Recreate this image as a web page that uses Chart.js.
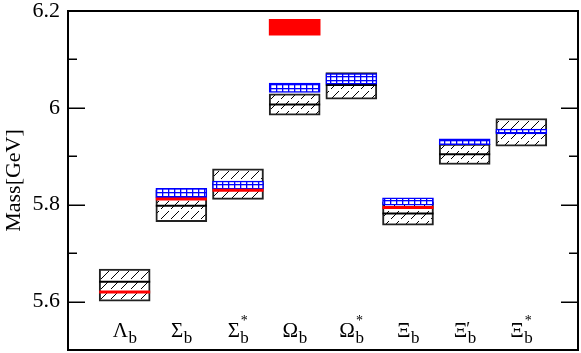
<!DOCTYPE html>
<html>
<head>
<meta charset="utf-8">
<script src="https://cdn.jsdelivr.net/npm/chart.js@4.4.0/dist/chart.umd.min.js"></script>
<style>
html, body { margin: 0; padding: 0; background: #fff; }
#wrap { width: 581px; height: 353px; }
</style>
</head>
<body>
<div id="wrap"><canvas id="grafico" width="581" height="353"></canvas></div>
<script>
// baryon names: letter, subscript, superscript
const bariones = ['Λ', 'Σ', 'Σ', 'Ω', 'Ω', 'Ξ', 'Ξ', 'Ξ'];
const subindices = ['b', 'b', 'b', 'b', 'b', 'b', 'b', 'b'];
const superindices = ['', '', '*', '', '*', '', '′', '*'];

// hatched boxes (GeV): low, central, high
const teoBajo   = [5.601, 5.765, 5.811, 5.985, 6.018, 5.758, 5.883, 5.921];
const teoCentro = [5.641, 5.798, 5.842, 6.007, 6.047, 5.782, 5.904, 5.950];
const teoAlto   = [5.667, 5.830, 5.874, 6.029, 6.073, 5.806, 5.925, 5.978];

// blue grid boxes
const latBajo = [null, 5.814, 5.832, 6.032, 6.049, 5.799, 5.924, 5.946];
const latAlto = [null, 5.834, 5.849, 6.051, 6.071, 5.814, 5.936, 5.956];

// experimental masses (red lines)
const experimental = [5.620, 5.812, 5.830, null, null, 5.794, null, null];

// red block
const rojoBajo = [null, null, null, 6.150, null, null, null, null];
const rojoAlto = [null, null, null, 6.183, null, null, null, null];

const ticksY = [5.6, 5.8, 6.0, 6.2];
const ticksYmenores = [5.7, 5.9, 6.1];

const FUENTE = '"Liberation Serif", "Times New Roman", serif';

function patronRayado() {
    const c = document.createElement('canvas');
    c.width = 10; c.height = 10;
    const g = c.getContext('2d');
    g.fillStyle = '#fff'; g.fillRect(0, 0, 10, 10);
    g.strokeStyle = '#000'; g.lineWidth = 1;
    g.beginPath(); g.moveTo(1, 9); g.lineTo(9, 1); g.stroke();
    return g.createPattern(c, 'repeat');
}

function patronRejilla() {
    const c = document.createElement('canvas');
    c.width = 6; c.height = 4;
    const g = c.getContext('2d');
    g.fillStyle = '#fff'; g.fillRect(0, 0, 6, 4);
    g.fillStyle = '#0000ff';
    g.fillRect(0, 0, 6, 1.3);
    g.fillRect(0, 0, 1.3, 4);
    return g.createPattern(c, 'repeat');
}

const cajas = teoBajo.map((b, i) => ({ x: i + 1, y: [b, teoAlto[i]] }));
const rejillas = latBajo.map((b, i) => b === null ? null : { x: i + 1, y: [b, latAlto[i]] }).filter(Boolean);
const rojos = rojoBajo.map((b, i) => b === null ? null : { x: i + 1, y: [b, rojoAlto[i]] }).filter(Boolean);

const MEDIO = 25.5;

const adornos = {
    id: 'adornos',
    afterDatasetDraw(chart, args) {
        if (args.index !== 0) return;
        const { ctx, scales: { x, y } } = chart;
        ctx.save();
        ctx.strokeStyle = '#000';
        ctx.lineWidth = 2;
        teoCentro.forEach((v, i) => {
            const px = x.getPixelForValue(i + 1), py = y.getPixelForValue(v);
            ctx.beginPath(); ctx.moveTo(px - MEDIO, py); ctx.lineTo(px + MEDIO, py); ctx.stroke();
        });
        ctx.restore();
    },
    afterDatasetsDraw(chart) {
        const { ctx, chartArea: a, scales: { x, y } } = chart;
        ctx.save();
        // experimental lines
        ctx.strokeStyle = '#ff0000';
        ctx.lineWidth = 3;
        experimental.forEach((v, i) => {
            if (v === null) return;
            const px = x.getPixelForValue(i + 1), py = y.getPixelForValue(v);
            ctx.beginPath(); ctx.moveTo(px - MEDIO, py); ctx.lineTo(px + MEDIO, py); ctx.stroke();
        });
        // frame
        ctx.strokeStyle = '#000';
        ctx.lineWidth = 2;
        ctx.strokeRect(a.left, a.top, a.right - a.left, a.bottom - a.top);
        // inward ticks on both sides
        ctx.lineWidth = 1.5;
        const marcas = (vals, largo) => vals.forEach(v => {
            const py = Math.round(y.getPixelForValue(v)) + 0.25;
            ctx.beginPath();
            ctx.moveTo(a.left, py); ctx.lineTo(a.left + largo, py);
            ctx.moveTo(a.right, py); ctx.lineTo(a.right - largo, py);
            ctx.stroke();
        });
        marcas(ticksY, 17);
        marcas(ticksYmenores, 9);
        // category names
        ctx.fillStyle = '#000';
        ctx.textBaseline = 'alphabetic';
        ctx.textAlign = 'left';
        const base = a.bottom - 13.5;
        bariones.forEach((l, i) => {
            const cx = x.getPixelForValue(i + 1);
            ctx.font = '21px ' + FUENTE;
            const w1 = ctx.measureText(l).width;
            ctx.font = '17px ' + FUENTE;
            const w2 = ctx.measureText(subindices[i]).width;
            const x0 = cx - (w1 + w2) / 2;
            ctx.font = '21px ' + FUENTE;
            ctx.fillText(l, x0, base);
            ctx.font = '17px ' + FUENTE;
            ctx.fillText(subindices[i], x0 + w1 + 0.5, base + 6);
            const s = superindices[i];
            if (s === '*') {
                ctx.font = '14px ' + FUENTE;
                ctx.fillText(s, x0 + w1 + 1, base - 12);
            } else if (s) {
                ctx.font = '18px ' + FUENTE;
                ctx.fillText(s, x0 + w1 - 1, base - 2);
            }
        });
        ctx.restore();
    }
};

new Chart(document.getElementById('grafico'), {
    type: 'bar',
    data: {
        datasets: [
            {
                data: cajas,
                backgroundColor: patronRayado(),
                borderColor: '#222',
                borderWidth: 2,
                borderSkipped: false,
                barThickness: 51,
                grouped: false,
                order: 3
            },
            {
                data: rejillas,
                backgroundColor: patronRejilla(),
                borderColor: '#0000ff',
                borderWidth: 1.5,
                borderSkipped: false,
                barThickness: 51,
                grouped: false,
                order: 2
            },
            {
                data: rojos,
                backgroundColor: '#ff0000',
                borderWidth: 0,
                barThickness: 51,
                grouped: false,
                order: 1
            }
        ]
    },
    options: {
        responsive: false,
        animation: false,
        devicePixelRatio: 1,
        layout: { padding: { top: 11, right: 3, left: 0, bottom: 0 } },
        plugins: { legend: { display: false }, tooltip: { enabled: false } },
        scales: {
            x: {
                type: 'linear',
                min: 0,
                max: 9,
                offset: false,
                grid: { display: false, offset: false },
                border: { display: false },
                ticks: { display: false },
                afterFit: s => { s.height = 3; s.paddingLeft = 0; s.paddingRight = 0; }
            },
            y: {
                min: 5.5,
                max: 6.2,
                grid: { display: false, drawTicks: false },
                border: { display: false },
                afterBuildTicks: s => { s.ticks = ticksY.map(v => ({ value: v })); },
                ticks: {
                    padding: 8,
                    color: '#000',
                    font: { family: FUENTE, size: 22 },
                    callback: v => String(+v.toFixed(1))
                },
                title: {
                    display: true,
                    text: 'Mass[GeV]',
                    color: '#000',
                    font: { family: FUENTE, size: 22 },
                    padding: { top: 1, bottom: 0 }
                },
                afterFit: s => { s.width = 68; s.paddingTop = 0; s.paddingBottom = 0; }
            }
        }
    },
    plugins: [adornos]
});
</script>
</body>
</html>
